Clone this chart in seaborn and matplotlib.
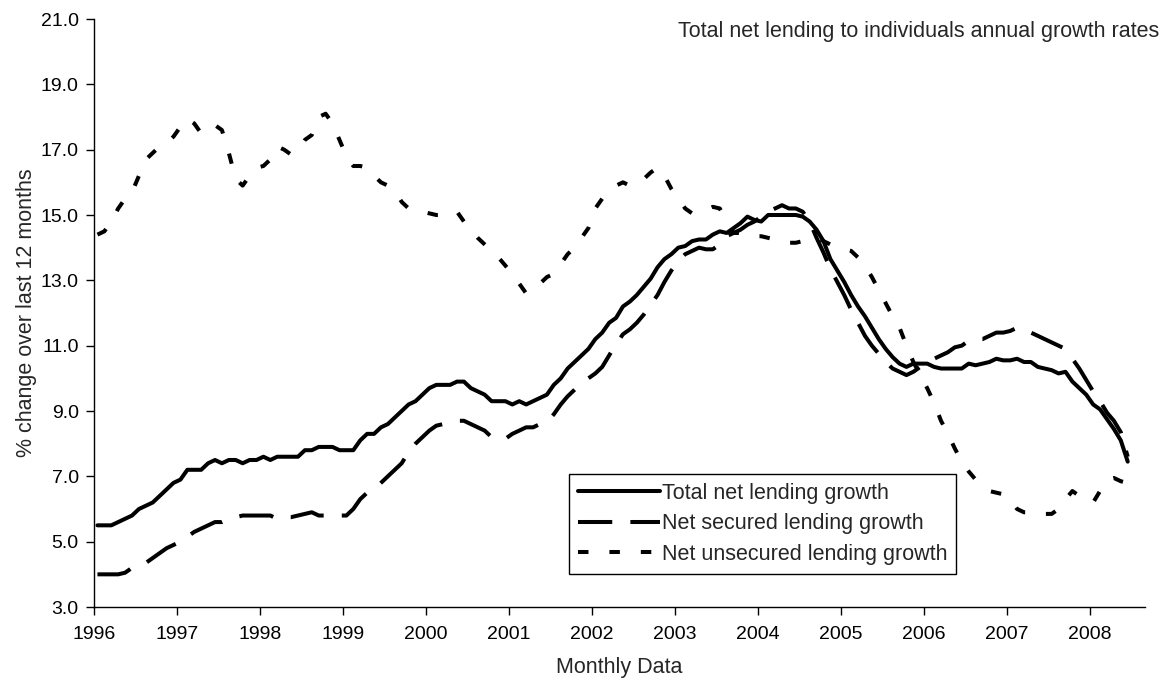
import numpy as np
import pandas as pd
import matplotlib
matplotlib.use("Agg")
import matplotlib.pyplot as plt
import seaborn as sns

# -----------------------------
# Data: monthly annual growth rates, Jan 1996 - Jun 2008
# -----------------------------
total = [
    5.5, 5.5, 5.5, 5.6, 5.7, 5.8, 6.0, 6.1, 6.2, 6.4, 6.6, 6.8,            # 1996
    6.9, 7.2, 7.2, 7.2, 7.4, 7.5, 7.4, 7.5, 7.5, 7.4, 7.5, 7.5,            # 1997
    7.6, 7.5, 7.6, 7.6, 7.6, 7.6, 7.8, 7.8, 7.9, 7.9, 7.9, 7.8,            # 1998
    7.8, 7.8, 8.1, 8.3, 8.3, 8.5, 8.6, 8.8, 9.0, 9.2, 9.3, 9.5,            # 1999
    9.7, 9.8, 9.8, 9.8, 9.9, 9.9, 9.7, 9.6, 9.5, 9.3, 9.3, 9.3,            # 2000
    9.2, 9.3, 9.2, 9.3, 9.4, 9.5, 9.8, 10.0, 10.3, 10.5, 10.7, 10.9,       # 2001
    11.2, 11.4, 11.7, 11.85, 12.2, 12.35, 12.55, 12.8, 13.05, 13.4, 13.65, 13.8,   # 2002
    14.0, 14.05, 14.2, 14.25, 14.25, 14.4, 14.5, 14.45, 14.6, 14.75, 14.95, 14.85,  # 2003
    14.8, 15.0, 15.0, 15.0, 15.0, 15.0, 14.95, 14.8, 14.55, 14.2, 13.65, 13.3,    # 2004
    12.95, 12.55, 12.2, 11.9, 11.55, 11.2, 10.9, 10.65, 10.45, 10.35, 10.45, 10.45,  # 2005
    10.45, 10.35, 10.3, 10.3, 10.3, 10.3, 10.45, 10.4, 10.45, 10.5, 10.6, 10.55,  # 2006
    10.55, 10.6, 10.5, 10.5, 10.35, 10.3, 10.25, 10.15, 10.2, 9.9, 9.7, 9.5,     # 2007
    9.2, 9.05, 8.75, 8.45, 8.1, 7.45,                                          # 2008
]
secured = [
    4.0, 4.0, 4.0, 4.0, 4.05, 4.2, 4.3, 4.35, 4.5, 4.65, 4.8, 4.9,
    5.0, 5.15, 5.3, 5.4, 5.5, 5.6, 5.6, 5.7, 5.75, 5.8, 5.8, 5.8,
    5.8, 5.8, 5.7, 5.75, 5.75, 5.8, 5.85, 5.9, 5.8, 5.8, 5.8, 5.8,
    5.8, 6.0, 6.3, 6.5, 6.6, 6.8, 7.0, 7.2, 7.4, 7.75, 8.0, 8.2,
    8.4, 8.55, 8.6, 8.65, 8.7, 8.7, 8.6, 8.5, 8.4, 8.2, 8.2, 8.15,
    8.3, 8.4, 8.5, 8.5, 8.6, 8.65, 8.9, 9.2, 9.45, 9.65, 9.85, 10.0,
    10.15, 10.35, 10.7, 11.05, 11.35, 11.5, 11.7, 11.95, 12.25, 12.55, 12.95, 13.3,
    13.6, 13.8, 13.9, 14.0, 13.95, 13.95, 14.1, 14.35, 14.45, 14.55, 14.7, 14.8,
    14.95, 15.1, 15.2, 15.3, 15.2, 15.2, 15.1, 14.8, 14.3, 13.85, 13.35, 12.95,
    12.55, 12.1, 11.7, 11.3, 11.0, 10.75, 10.5, 10.3, 10.2, 10.1, 10.2, 10.35,
    10.5, 10.6, 10.7, 10.8, 10.95, 11.0, 11.15, 11.2, 11.2, 11.3, 11.4, 11.4,
    11.45, 11.55, 11.5, 11.4, 11.3, 11.2, 11.1, 11.0, 10.9, 10.6, 10.3, 9.95,
    9.6, 9.3, 8.95, 8.7, 8.35, 7.6,
]
unsecured = [
    14.4, 14.5, 14.8, 15.2, 15.5, 15.7, 16.2, 16.7, 16.9, 17.1, 17.2, 17.4,
    17.7, 17.95, 17.8, 17.5, 17.6, 17.75, 17.6, 16.9, 16.1, 15.9, 16.2, 16.45,
    16.5, 16.7, 17.1, 17.0, 16.85, 17.0, 17.3, 17.45, 18.0, 18.1, 17.8, 17.3,
    16.8, 16.5, 16.5, 16.45, 16.2, 16.0, 15.9, 15.75, 15.4, 15.2, 15.15, 15.1,
    15.05, 15.0, 15.0, 15.05, 15.1, 14.8, 14.55, 14.3, 14.1, 13.9, 13.7, 13.45,
    13.2, 12.9, 12.6, 12.7, 12.9, 13.1, 13.2, 13.5, 13.8, 14.0, 14.3, 14.6,
    15.2, 15.5, 15.75, 15.9, 16.0, 15.9, 15.95, 16.1, 16.3, 16.45, 16.2, 15.8,
    15.5, 15.2, 15.05, 15.1, 15.15, 15.25, 15.2, 14.8, 14.45, 14.45, 14.4, 14.35,
    14.35, 14.3, 14.25, 14.2, 14.15, 14.15, 14.2, 14.25, 14.3, 14.2, 14.1, 14.0,
    13.95, 13.9, 13.7, 13.45, 13.1, 12.7, 12.3, 11.9, 11.55, 11.0, 10.5, 10.1,
    9.7, 9.25, 8.7, 8.3, 7.85, 7.45, 7.15, 6.9, 6.7, 6.55, 6.5, 6.45,
    6.3, 6.0, 5.9, 5.9, 5.9, 5.85, 5.85, 6.0, 6.3, 6.55, 6.4, 6.25,
    6.2, 6.55, 6.9, 6.95, 6.85, 6.8,
]
series_names = ["Total net lending growth", "Net secured lending growth",
                "Net unsecured lending growth"]
year_ticks = list(range(1996, 2009))
y_ticks = [3.0, 5.0, 7.0, 9.0, 11.0, 13.0, 15.0, 17.0, 19.0, 21.0]

# month midpoints in decimal years; the category axis runs to Aug 2008
n_months = len(total)
x = 1996 + (np.arange(n_months) + 0.5) / 12
x_end = 1996 + 152 / 12

# -----------------------------
# Style
# -----------------------------
sns.set_style("white")
plt.rcParams["font.family"] = ["Liberation Sans", "DejaVu Sans"]
TICK_FS = 14
TEXT_FS = 15.5

line_styles = {
    series_names[0]: "-",
    series_names[1]: (0, (8.5, 4.5)),
    series_names[2]: (0, (2.6, 5.2)),
}

fig = plt.figure(figsize=(11.68, 6.8), dpi=100)
ax = fig.add_axes([94 / 1168, 1 - 607 / 680, (1145 - 94) / 1168, (607 - 19) / 680])

for name, vals in zip(series_names, [total, secured, unsecured]):
    sns.lineplot(x=x, y=vals, ax=ax, color="black", linewidth=2.9,
                 linestyle=line_styles[name], label=name,
                 solid_joinstyle="round", dash_capstyle="butt")

ax.set_xlim(1996, x_end)
ax.set_ylim(3.0, 21.0)
ax.set_xticks(year_ticks)
ax.set_xticklabels([str(y) for y in year_ticks])
ax.set_yticks(y_ticks)
ax.set_yticklabels([f"{v:.1f}" for v in y_ticks])
ax.tick_params(axis="both", which="both", bottom=True, left=True,
               direction="out", length=6, width=1, colors="black",
               labelsize=TICK_FS)
ax.tick_params(axis="x", pad=8)
ax.tick_params(axis="y", pad=5)

for side in ["top", "right"]:
    ax.spines[side].set_visible(False)
for side in ["left", "bottom"]:
    ax.spines[side].set_color("black")
    ax.spines[side].set_linewidth(1)

ax.set_xlabel("Monthly Data", fontsize=TEXT_FS, labelpad=10)
ax.set_ylabel("% change over last 12 months", fontsize=TEXT_FS, labelpad=3)

leg = ax.legend(loc="upper left", bbox_to_anchor=(569 / 1168, 1 - 474 / 680),
                bbox_transform=fig.transFigure, frameon=True, fancybox=False,
                edgecolor="black", framealpha=1, fontsize=TEXT_FS,
                handlelength=3.85, handletextpad=0.05, labelspacing=0.45,
                borderpad=0.4, borderaxespad=0)
leg.get_frame().set_linewidth(1)

fig.text(1159 / 1168, 1 - 31 / 680, "Total net lending to individuals annual growth rates",
         ha="right", va="center", fontsize=TEXT_FS)

plt.savefig("out.png", dpi=100)
